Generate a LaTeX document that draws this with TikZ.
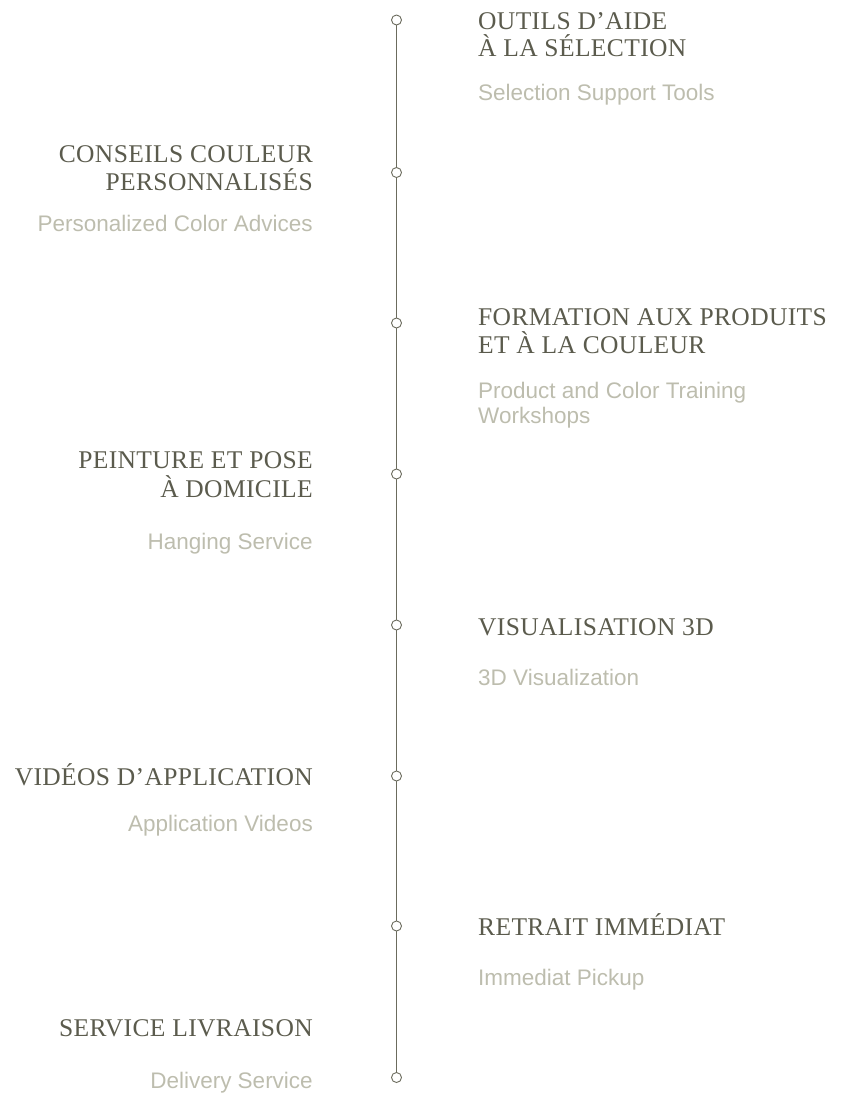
\documentclass[tikz,border=0pt]{standalone}
\usepackage{fontspec}
\setmainfont{Liberation Serif}[LetterSpace=1.5]
\newfontfamily\subfont{Liberation Sans}
\definecolor{titlecol}{HTML}{5B5B4D}
\definecolor{subcol}{HTML}{BDBDAE}
\definecolor{linecol}{HTML}{6B6B5D}
\tikzset{
  ttl/.style={inner sep=0pt, text=titlecol, font=\fontsize{25.5}{28}\selectfont},
  sub/.style={inner sep=0pt, text=subcol, font=\subfont\fontsize{22.5}{25}\selectfont},
  dot/.style={circle, draw=linecol, fill=white, line width=0.9pt, minimum size=10pt, inner sep=0pt},
  spine/.style={draw=linecol, line width=1.1pt}
}
\begin{document}
\begin{tikzpicture}[x=1pt,y=-1pt]
\useasboundingbox (0,0) rectangle (841,1096);
% dots
\node[dot] (d1) at (396.5,20) {};
\node[dot] (d2) at (396.5,172.5) {};
\node[dot] (d3) at (396.5,323) {};
\node[dot] (d4) at (396.5,474) {};
\node[dot] (d5) at (396.5,625) {};
\node[dot] (d6) at (396.5,776) {};
\node[dot] (d7) at (396.5,926) {};
\node[dot] (d8) at (396.5,1077.5) {};
\path[spine] (d1.south) -- (d2.north) (d2.south) -- (d3.north) (d3.south) -- (d4.north)
  (d4.south) -- (d5.north) (d5.south) -- (d6.north) (d6.south) -- (d7.north) (d7.south) -- (d8.north);
% item 1 (right)
\node[ttl, anchor=base west] (t1a) at (478,29) {OUTILS D’AIDE};
\node[ttl, anchor=base west] (t1b) at (478,56) {À LA SÉLECTION};
\node[sub, anchor=base west] (s1) at (478,100) {Selection Support Tools};
% item 2 (left)
\node[ttl, anchor=base east] (t2a) at (313,162) {CONSEILS COULEUR};
\node[ttl, anchor=base east] (t2b) at (313,190) {PERSONNALISÉS};
\node[sub, anchor=base east] (s2) at (313,231) {Personalized Color Advices};
% item 3 (right)
\node[ttl, anchor=base west] (t3a) at (478,325) {FORMATION AUX PRODUITS};
\node[ttl, anchor=base west] (t3b) at (478,353) {ET À LA COULEUR};
\node[sub, anchor=base west] (s3a) at (478,398) {Product and Color Training};
\node[sub, anchor=base west] (s3b) at (478,423) {Workshops};
% item 4 (left)
\node[ttl, anchor=base east] (t4a) at (313,468) {PEINTURE ET POSE};
\node[ttl, anchor=base east] (t4b) at (313,497) {À DOMICILE};
\node[sub, anchor=base east] (s4) at (313,549) {Hanging Service};
% item 5 (right)
\node[ttl, anchor=base west] (t5) at (478,635) {VISUALISATION 3D};
\node[sub, anchor=base west] (s5) at (478,685) {3D Visualization};
% item 6 (left)
\node[ttl, anchor=base east] (t6) at (313,785) {VIDÉOS D’APPLICATION};
\node[sub, anchor=base east] (s6) at (313,831) {Application Videos};
% item 7 (right)
\node[ttl, anchor=base west] (t7) at (478,935) {RETRAIT IMMÉDIAT};
\node[sub, anchor=base west] (s7) at (478,985) {Immediat Pickup};
% item 8 (left)
\node[ttl, anchor=base east] (t8) at (313,1036) {SERVICE LIVRAISON};
\node[sub, anchor=base east] (s8) at (313,1088) {Delivery Service};
\end{tikzpicture}
\end{document}
